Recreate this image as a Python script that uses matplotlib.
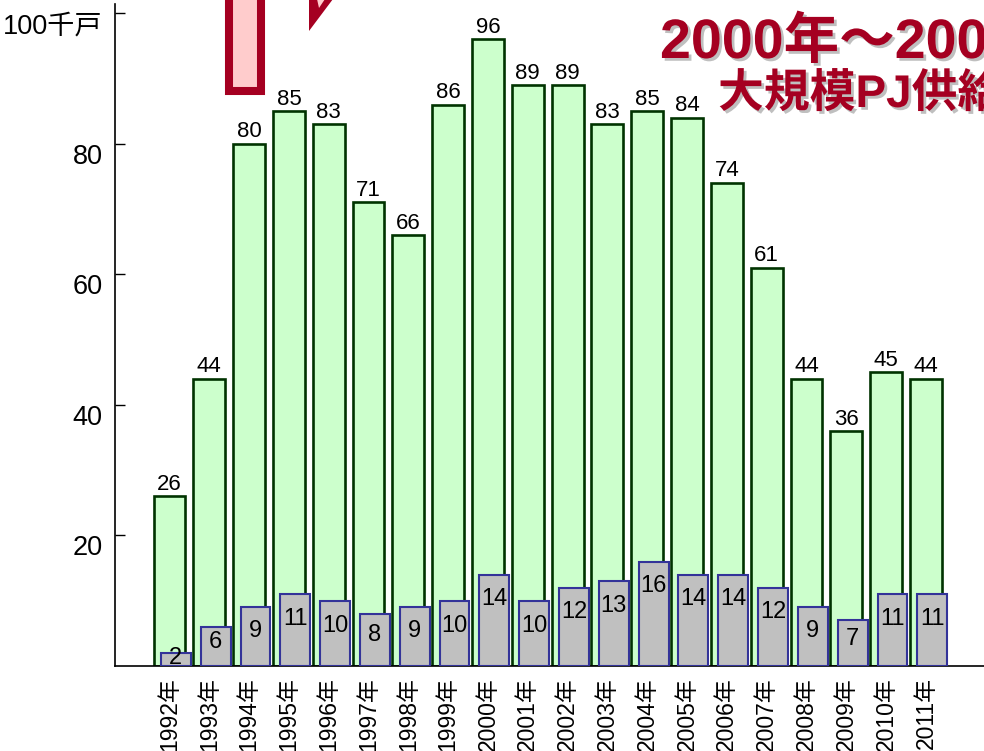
import numpy as np
import matplotlib.pyplot as plt
import matplotlib.patheffects as pe
from matplotlib.patches import Rectangle, Polygon

years = ['1992年', '1993年', '1994年', '1995年', '1996年', '1997年', '1998年', '1999年', '2000年', '2001年',
         '2002年', '2003年', '2004年', '2005年', '2006年', '2007年', '2008年', '2009年', '2010年', '2011年']
total = [26, 44, 80, 85, 83, 71, 66, 86, 96, 89, 89, 83, 85, 84, 74, 61, 44, 36, 45, 44]
large = [2, 6, 9, 11, 10, 8, 9, 10, 14, 10, 12, 13, 16, 14, 14, 12, 9, 7, 11, 11]
ytick_vals = [20, 40, 60, 80, 100]
ytick_text = ['20', '40', '60', '80', '100千戸']
title1 = '2000年～200'
title2 = '大規模PJ供給'

fonts = ['Liberation Sans', 'Noto Sans CJK JP', 'DejaVu Sans']
plt.rcParams['font.family'] = fonts

W, H = 984, 751
fig = plt.figure(figsize=(W / 100, H / 100), dpi=100)
ax = fig.add_axes([115 / W, (H - 666) / H, (W - 115) / W, (666 - 4) / H])

x = np.arange(len(years))
ax.bar(x, total, width=0.8, color='#ccffcc', edgecolor='#003300', linewidth=1.9, zorder=2)
ax.bar(x + 0.16, large, width=0.75, color='#c0c0c0', edgecolor='#333399', linewidth=1.5, zorder=3)

for i, v in enumerate(total):
    ax.annotate(str(v), (i, v), xytext=(0, 1), textcoords='offset points',
                ha='center', va='bottom', fontsize=16, zorder=4)
for i, v in enumerate(large):
    ax.text(i + 0.16, max(v - 3.8, v * 0.6), str(v), ha='center', va='center',
            fontsize=17, zorder=4)

ax.set_xlim(-1.37, 20.46)
ax.set_ylim(0, 101.4)
ax.set_yticks(ytick_vals)
ax.set_yticklabels(ytick_text, va='top')
ax.set_xticks(x)
ax.set_xticklabels(years, rotation=90, va='top', ha='center')
ax.tick_params(axis='y', direction='in', length=7, width=1, pad=9, labelsize=19.5)
ax.tick_params(axis='x', length=0, pad=8, labelsize=16.5)
for s in ['top', 'right']:
    ax.spines[s].set_visible(False)
for s in ['left', 'bottom']:
    ax.spines[s].set_linewidth(1.2)

# decorations at top
def fpt(px, py):
    return (px / W, 1 - py / H)

rx0, ry0 = fpt(229, 91)
fig.add_artist(Rectangle((rx0, ry0), 32 / W, 110 / H, transform=fig.transFigure,
                         facecolor='#ffcccc', edgecolor='#a50021', linewidth=5.8, zorder=5))
fig.add_artist(Polygon([fpt(309, 31), fpt(309, -1), fpt(333, -1)], closed=True,
                       transform=fig.transFigure, facecolor='#a50021', edgecolor='none', zorder=5))
fig.add_artist(Polygon([fpt(317, -1), fpt(325, -1), fpt(319, 8)], closed=True,
                       transform=fig.transFigure, facecolor='#ffcccc', edgecolor='none', zorder=6))

shadow = [pe.SimplePatchShadow(offset=(2, -2), shadow_rgbFace='#b8b8b8', alpha=0.9), pe.Normal()]
fig.text(660 / W, 1 - 58 / H, title1, fontsize=40, fontweight='bold', color='#a50021',
         ha='left', va='baseline', path_effects=shadow)
fig.text(718 / W, 1 - 107 / H, title2, fontsize=33, fontweight='bold', color='#a50021',
         ha='left', va='baseline', path_effects=shadow)

fig.savefig('out.png', dpi=100)
